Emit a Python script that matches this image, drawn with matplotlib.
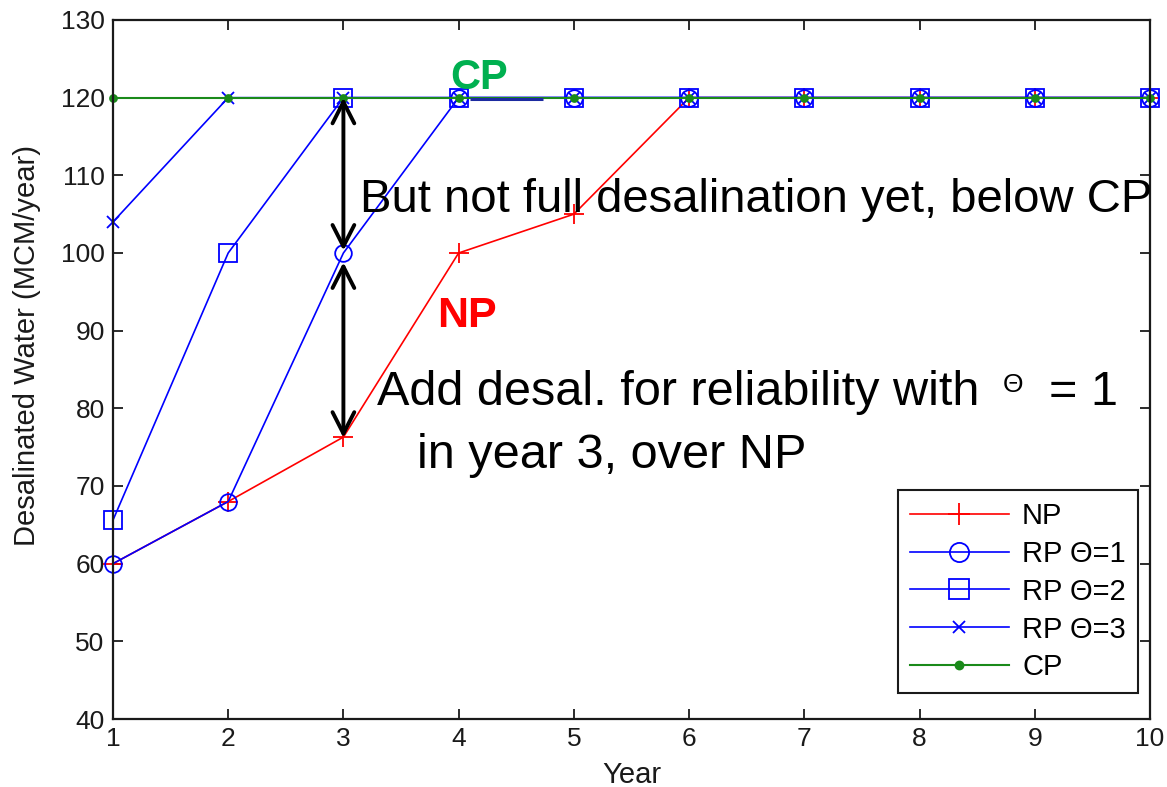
import matplotlib
matplotlib.use("Agg")
import matplotlib.pyplot as plt

# Desalinated water capacity by policy
years = [1, 2, 3, 4, 5, 6, 7, 8, 9, 10]
np_policy = [60, 68, 76.3, 100, 105, 120, 120, 120, 120, 120]
rp_theta1 = [60, 68, 100, 120, 120, 120, 120, 120, 120, 120]
rp_theta2 = [65.6, 100, 120, 120, 120, 120, 120, 120, 120, 120]
rp_theta3 = [104, 120, 120, 120, 120, 120, 120, 120, 120, 120]
cp_policy = [120, 120, 120, 120, 120, 120, 120, 120, 120, 120]

series_labels = ["NP", "RP \u0398=1", "RP \u0398=2", "RP \u0398=3", "CP"]
x_ticks = [1, 2, 3, 4, 5, 6, 7, 8, 9, 10]
y_ticks = [40, 50, 60, 70, 80, 90, 100, 110, 120, 130]

# short dark-blue pointer stroke next to year 4
pointer_x = [4.1, 4.73]
pointer_y = [119.8, 119.8]

# vertical gaps marked with double arrows (year 3)
gap_upper = (120, 100.3)
gap_lower = (98.8, 76.2)

matlab_font = ["Liberation Sans Narrow", "Liberation Sans", "DejaVu Sans"]
note_font = ["Liberation Sans", "DejaVu Sans"]

fig = plt.figure(figsize=(11.67, 7.87), dpi=100)
ax = fig.add_axes([0.0968, 0.0864, 0.8886, 0.8882])

green = "#1a8a1a"
common = dict(clip_on=False, mew=1.3)
ax.plot(years, np_policy, color="red", lw=1.2, marker="+", ms=14,
        label=series_labels[0], **common)
ax.plot(years, rp_theta1, color="blue", lw=1.2, marker="o", ms=12,
        mfc="none", label=series_labels[1], **common)
ax.plot(years, rp_theta2, color="blue", lw=1.2, marker="s", ms=13,
        mfc="none", label=series_labels[2], **common)
ax.plot(years, rp_theta3, color="blue", lw=1.2, marker="x", ms=8,
        label=series_labels[3], **common)
ax.plot(years, cp_policy, color=green, lw=1.5, marker="o", ms=5,
        label=series_labels[4], **common)
ax.plot(pointer_x, pointer_y, color="#1c2aa0", lw=2.2, solid_capstyle="butt")

ax.set_xlim(1, 10)
ax.set_ylim(40, 130)
ax.set_xticks(x_ticks)
ax.set_yticks(y_ticks)
ax.tick_params(direction="in", length=7, width=1.3, top=True, right=True,
               labelsize=19, pad=6, colors="#1a1a1a")
for lbl in ax.get_xticklabels() + ax.get_yticklabels():
    lbl.set_family(matlab_font)
for sp in ax.spines.values():
    sp.set_linewidth(1.6)
    sp.set_color("#1a1a1a")

ax.set_xlabel("Year", fontsize=21, family=matlab_font, color="#1a1a1a",
              labelpad=7)
ax.set_ylabel("Desalinated Water (MCM/year)", fontsize=21, family=matlab_font,
              color="#1a1a1a")
ax.yaxis.set_label_coords(-0.069, 0.535)

leg = ax.legend(loc="lower right", bbox_to_anchor=(0.988, 0.037),
                borderaxespad=0, fancybox=False, framealpha=1,
                edgecolor="#1a1a1a", handlelength=3.4, handletextpad=0.45,
                labelspacing=0.34, borderpad=0.4, markerscale=1.15,
                prop={"family": matlab_font, "size": 21})
leg.get_frame().set_linewidth(1.5)

# double-headed arrows at year 3
arrow_kw = dict(arrowstyle="<->,head_length=0.55,head_width=0.28", lw=2.8,
                color="black", shrinkA=0, shrinkB=0, mutation_scale=28)
ax.annotate("", xy=(3, gap_upper[0]), xytext=(3, gap_upper[1]),
            arrowprops=arrow_kw)
ax.annotate("", xy=(3, gap_lower[0]), xytext=(3, gap_lower[1]),
            arrowprops=arrow_kw)

# explanatory notes
ax.text(3.14, 105.3, "But not full desalination yet, below CP", fontsize=34,
        family=note_font, ha="left", va="baseline")
ax.text(3.29, 80.43, "Add desal. for reliability with", fontsize=35,
        family=note_font, ha="left", va="baseline")
ax.text(8.725, 82.1, "\u0398", fontsize=19, family=note_font, ha="left",
        va="baseline")
ax.text(9.12, 80.43, "= 1", fontsize=35, family=note_font, ha="left",
        va="baseline")
ax.text(3.64, 72.3, "in year 3, over NP", fontsize=35, family=note_font,
        ha="left", va="baseline")
ax.text(3.925, 121.1, "CP", fontsize=30, fontweight="bold", color="#00B050",
        family=note_font, ha="left", va="baseline")
ax.text(3.81, 90.5, "NP", fontsize=31, fontweight="bold", color="red",
        family=note_font, ha="left", va="baseline")

fig.savefig("out.png", dpi=100)
